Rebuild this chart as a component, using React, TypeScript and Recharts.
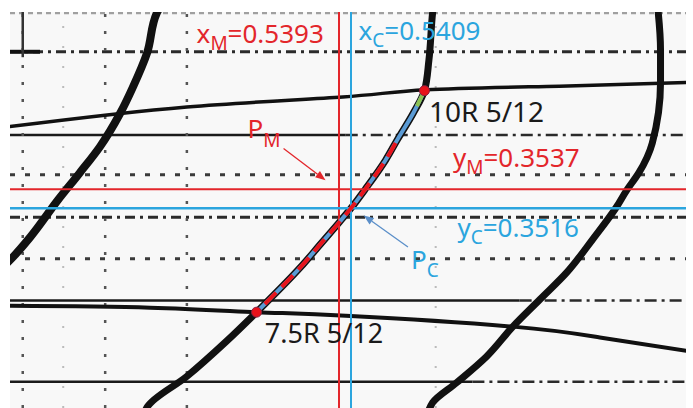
import { ComposedChart, Line, XAxis, YAxis, ReferenceDot, ReferenceArea } from "recharts";

type Pt = { x: number; y: number };

// chromaticity window of the scanned chart paper
const X_RANGE = [0.4954, 0.5856];
const Y_RANGE = [0.3295, 0.3733];

// the two estimates (M = measured, C = computed)
const X_M = 0.5393;
const Y_M = 0.3537;
const X_C = 0.5409;
const Y_C = 0.3516;

const SAMPLE_LO = { name: "7.5R 5/12", x: 0.5283, y: 0.3401 };
const SAMPLE_HI = { name: "10R 5/12", x: 0.5507, y: 0.3646 };

// hue curves (bottom to top)
const HUE_LEFT: Pt[] = [
  { x: 0.4946, y: 0.3452 },
  { x: 0.4958, y: 0.3462 },
  { x: 0.4981, y: 0.3484 },
  { x: 0.5018, y: 0.3525 },
  { x: 0.5047, y: 0.3555 },
  { x: 0.5074, y: 0.3584 },
  { x: 0.5101, y: 0.3621 },
  { x: 0.5118, y: 0.365 },
  { x: 0.5137, y: 0.3688 },
  { x: 0.515, y: 0.3732 },
  { x: 0.5153, y: 0.3737 },
];

const HUE_MID: Pt[] = [
  { x: 0.5134, y: 0.3291 },
  { x: 0.5137, y: 0.3296 },
  { x: 0.519, y: 0.333 },
  { x: 0.5243, y: 0.3369 },
  { x: 0.5283, y: 0.3401 },
  { x: 0.5294, y: 0.341 },
  { x: 0.5342, y: 0.3451 },
  { x: 0.5368, y: 0.3476 },
  { x: 0.5394, y: 0.3501 },
  { x: 0.541, y: 0.3517 },
  { x: 0.5428, y: 0.3537 },
  { x: 0.5455, y: 0.3569 },
  { x: 0.5471, y: 0.3592 },
  { x: 0.5492, y: 0.3621 },
  { x: 0.5507, y: 0.3646 },
  { x: 0.5513, y: 0.368 },
  { x: 0.5518, y: 0.3733 },
  { x: 0.5519, y: 0.374 },
];

const HUE_RIGHT: Pt[] = [
  { x: 0.5513, y: 0.3293 },
  { x: 0.5518, y: 0.3301 },
  { x: 0.555, y: 0.3323 },
  { x: 0.559, y: 0.3352 },
  { x: 0.5625, y: 0.3385 },
  { x: 0.5661, y: 0.3415 },
  { x: 0.5697, y: 0.3445 },
  { x: 0.5731, y: 0.3481 },
  { x: 0.5763, y: 0.3517 },
  { x: 0.5777, y: 0.3536 },
  { x: 0.5793, y: 0.3555 },
  { x: 0.5811, y: 0.3588 },
  { x: 0.5822, y: 0.3655 },
  { x: 0.5822, y: 0.3691 },
  { x: 0.5819, y: 0.3732 },
  { x: 0.5818, y: 0.374 },
];

// chroma 12 row lines through each sample
const ROW_10R: Pt[] = [
  { x: 0.4951, y: 0.3606 },
  { x: 0.519, y: 0.3628 },
  { x: 0.5398, y: 0.3639 },
  { x: 0.5509, y: 0.3647 },
  { x: 0.5687, y: 0.3651 },
  { x: 0.5858, y: 0.3655 },
];

const ROW_75R: Pt[] = [
  { x: 0.4951, y: 0.3408 },
  { x: 0.5141, y: 0.3406 },
  { x: 0.5283, y: 0.3401 },
  { x: 0.5402, y: 0.3397 },
  { x: 0.5625, y: 0.3385 },
  { x: 0.5741, y: 0.3373 },
  { x: 0.5858, y: 0.3358 },
];

// path between the samples
const PATH = HUE_MID.slice(4, 15);
const PATH_RED = HUE_MID.slice(5, 13);
const PATH_GREEN: Pt[] = [
  { x: 0.5497, y: 0.3629 },
  { x: 0.5507, y: 0.3646 },
];

// paper grid
const ROWS_DOTTED = [0.3553, 0.346];
const ROWS_DASHED = [0.3689, 0.3506];
const ROW_TOP = 0.3732;
const ROWS_SPLIT = [
  { y: 0.3597, split: 0.5402 },
  { y: 0.3414, split: 0.5634 },
  { y: 0.3324, split: 0.5571 },
];
const COLS_DOTTED = [0.4971, 0.5081, 0.519];
const COLS_FAINT = [0.5025, 0.5522];

// arrows from labels to the points
const ARROW_M: Pt[] = [
  { x: 0.5319, y: 0.3582 },
  { x: 0.5375, y: 0.3547 },
];
const ARROW_C: Pt[] = [
  { x: 0.5485, y: 0.3473 },
  { x: 0.5426, y: 0.3508 },
];

const RED = "#e3262b";
const BLUE = "#2ba5de";
const INK = "#111111";
const FONT = "'Noto Sans', sans-serif";

const hline = (y: number, x0 = X_RANGE[0], x1 = X_RANGE[1]): Pt[] => [
  { x: x0, y },
  { x: x1, y },
];
const vline = (x: number, y0 = Y_RANGE[0], y1 = Y_RANGE[1]): Pt[] => [
  { x, y: y0 },
  { x, y: y1 },
];

function textShape(main: string, sub: string, rest: string, color: string, drop = 7, size = 26) {
  return (p: any) => (
    <text x={p.cx} y={p.cy} fill={color} fontSize={size} fontFamily={FONT}>
      {main}
      {sub ? (
        <tspan dy={drop} fontSize={19}>
          {sub}
        </tspan>
      ) : null}
      {rest ? <tspan dy={sub ? -drop : 0}>{rest}</tspan> : null}
    </text>
  );
}

function arrowShape(color: string) {
  return (p: any) => {
    const pts = p.points || [];
    if (pts.length < 2) return null;
    const [a, b] = pts;
    const ang = Math.atan2(b.y - a.y, b.x - a.x);
    const L = 10;
    const W = 4;
    const bx = b.x - L * Math.cos(ang);
    const by = b.y - L * Math.sin(ang);
    const tri = [
      `${b.x},${b.y}`,
      `${bx - W * Math.sin(ang)},${by + W * Math.cos(ang)}`,
      `${bx + W * Math.sin(ang)},${by - W * Math.cos(ang)}`,
    ].join(" ");
    return (
      <g>
        <line x1={a.x} y1={a.y} x2={bx} y2={by} stroke={color} strokeWidth={1.3} />
        <polygon points={tri} fill={color} />
      </g>
    );
  };
}

const line = (key: string, data: Pt[], color: string, width: number, dash?: string, curve: any = "linear") => (
  <Line
    key={key}
    data={data}
    dataKey="y"
    type={curve}
    stroke={color}
    strokeWidth={width}
    strokeDasharray={dash}
    dot={false}
    activeDot={false}
    isAnimationActive={false}
  />
);

export default function App() {
  return (
    <div style={{ position: "absolute", left: 0, top: 0, background: "#fff" }}>
      <ComposedChart width={693} height={408} margin={{ top: 12, right: 7, bottom: 0, left: 10 }}>
        <XAxis type="number" dataKey="x" domain={X_RANGE} allowDataOverflow hide />
        <YAxis type="number" dataKey="y" domain={Y_RANGE} allowDataOverflow hide />
        <ReferenceArea x1={X_RANGE[0]} x2={X_RANGE[1]} y1={Y_RANGE[0]} y2={Y_RANGE[1]} fill="#f8f8f8" fillOpacity={1} stroke="none" />

        {/* paper grid */}
        {line("top", hline(ROW_TOP), "#a0a0a0", 2.5, "5 4")}
        {ROWS_DOTTED.map((y, i) => line(`rd${i}`, hline(y), "#3a3a3a", 3, "5 10"))}
        {ROWS_DASHED.map((y, i) => line(`rs${i}`, hline(y), "#2a2a2a", 3, "10 5 3 5"))}
        {ROWS_SPLIT.map((r, i) => line(`rl${i}`, hline(r.y, X_RANGE[0], r.split), "#1a1a1a", 2.5))}
        {ROWS_SPLIT.map((r, i) => line(`rr${i}`, hline(r.y, r.split, X_RANGE[1]), "#2a2a2a", 2.5, "12 5 3 5"))}
        {line("thick52", hline(ROWS_DASHED[0], X_RANGE[0], 0.4994), INK, 4)}
        {COLS_DOTTED.map((x, i) => line(`c${i}`, vline(x), "#555", 2.5, "3 14"))}
        {COLS_FAINT.map((x, i) => line(`cf${i}`, vline(x), "#bbb", 2, "2 18"))}
        {line("c0top", vline(COLS_DOTTED[0], 0.3683, Y_RANGE[1]), "#333", 2.5)}

        {/* chart lines */}
        {line("row10", ROW_10R, INK, 3.5, undefined, "natural")}
        {line("row75", ROW_75R, INK, 4, undefined, "natural")}
        {line("hueL", HUE_LEFT, INK, 8, undefined, "monotoneY")}
        {line("hueM", HUE_MID, INK, 7, undefined, "monotoneY")}
        {line("hueR", HUE_RIGHT, INK, 7, undefined, "monotoneY")}

        {/* cross hairs */}
        {line("xm", vline(X_M), RED, 2)}
        {line("ym", hline(Y_M), RED, 2)}
        {line("xc", vline(X_C), BLUE, 2)}
        {line("yc", hline(Y_C), BLUE, 2.5)}

        {/* path between samples */}
        {line("path", PATH, "#5b9bd5", 4, undefined, "monotoneY")}
        {line("pathRed", PATH_RED, "#e8141c", 4, "16 8", "monotoneY")}
        {line("pathGreen", PATH_GREEN, "#8cc152", 4)}

        <Line data={ARROW_M} dataKey="y" stroke={RED} dot={false} activeDot={false} isAnimationActive={false} shape={arrowShape(RED)} />
        <Line data={ARROW_C} dataKey="y" stroke="#5b8fc9" dot={false} activeDot={false} isAnimationActive={false} shape={arrowShape("#5b8fc9")} />

        <ReferenceDot x={SAMPLE_LO.x} y={SAMPLE_LO.y} r={5} fill="#e8121a" stroke="#8a2040" strokeWidth={1} />
        <ReferenceDot x={SAMPLE_HI.x} y={SAMPLE_HI.y} r={5} fill="#e8121a" stroke="#8a2040" strokeWidth={1} />

        {/* labels */}
        <ReferenceDot x={0.5203} y={0.3699} r={0} shape={textShape("x", "M", `=${X_M.toFixed(4)}`, RED)} />
        <ReferenceDot x={0.5419} y={0.3702} r={0} shape={textShape("x", "C", `=${X_C.toFixed(4)}`, BLUE)} />
        <ReferenceDot x={0.5545} y={0.3562} r={0} shape={textShape("y", "M", `=${Y_M.toFixed(4)}`, RED)} />
        <ReferenceDot x={0.5551} y={0.3484} r={0} shape={textShape("y", "C", `=${Y_C.toFixed(4)}`, BLUE)} />
        <ReferenceDot x={0.5271} y={0.3594} r={0} shape={textShape("P", "M", "", RED, 9)} />
        <ReferenceDot x={0.5489} y={0.3449} r={0} shape={textShape("P", "C", "", BLUE, 8)} />
        <ReferenceDot x={0.5513} y={0.3611} r={0} shape={textShape(SAMPLE_HI.name, "", "", "#1a1a1a", 7, 28)} />
        <ReferenceDot x={0.5294} y={0.3367} r={0} shape={textShape(SAMPLE_LO.name, "", "", "#1a1a1a", 7, 27)} />
      </ComposedChart>
    </div>
  );
}
